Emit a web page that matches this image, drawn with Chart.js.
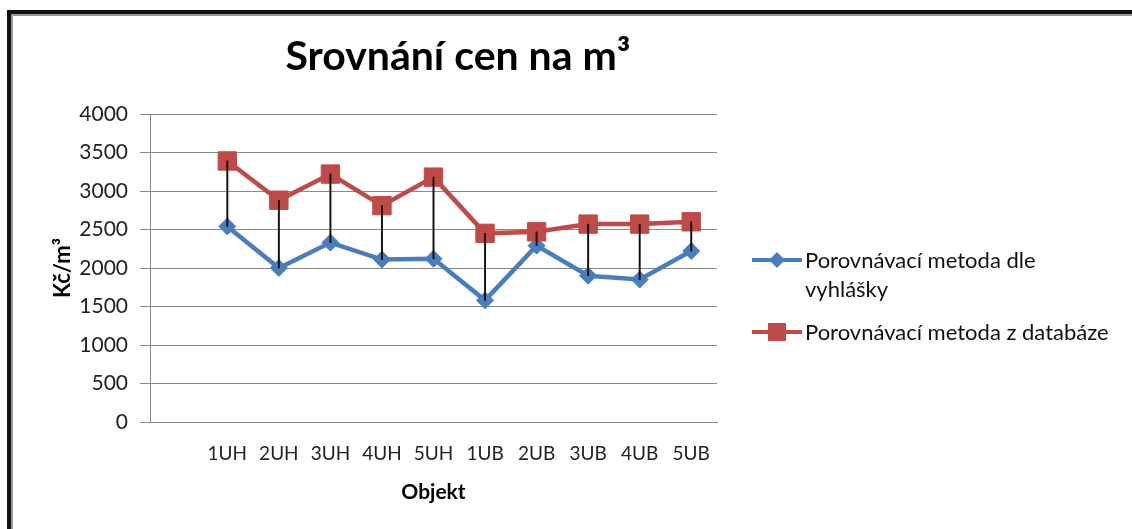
<!DOCTYPE html>
<html>
<head>
<meta charset="utf-8">
<script src="https://cdn.jsdelivr.net/npm/chart.js@4/dist/chart.umd.min.js"></script>
<style>
    body { margin: 0; background: #fff; }
    #wrap { position: relative; width: 1132px; height: 529px; overflow: hidden; font-family: Lato, sans-serif; }
    #frame { position: absolute; left: 7px; top: 10px; right: -20px; bottom: -20px; border-top: 4px solid #111; border-left: 4px solid #111; pointer-events: none; }
    #frame::after { content: ''; position: absolute; left: 0; top: 0; right: 0; bottom: 0; border-top: 2px solid #9a9a9a; border-left: 2px solid #9a9a9a; }
    #legend { position: absolute; left: 752px; top: 245px; font-size: 22px; color: #111; line-height: 29px; }
    .lg-item { display: flex; align-items: flex-start; }
    .lg-item svg { flex: none; margin-top: 5px; margin-right: 3px; }
    .lg-item + .lg-item { margin-top: 14px; }
</style>
</head>
<body>
<div id="wrap">
    <canvas id="chart" width="1132" height="529"></canvas>
    <div id="frame"></div>
    <div id="legend"></div>
</div>
<script>
// Data
const categories = ['', '1UH', '2UH', '3UH', '4UH', '5UH', '1UB', '2UB', '3UB', '4UB', '5UB'];
const vyhlaska = [null, 2540, 2000, 2330, 2110, 2120, 1580, 2290, 1900, 1850, 2220];
const databaze = [null, 3390, 2880, 3220, 2810, 3180, 2450, 2470, 2570, 2570, 2600];
const seriesNames = ['Porovnávací metoda dle<br>vyhlášky', 'Porovnávací metoda z databáze'];
const chartTitle = 'Srovnání cen na m³';
const yMin = 0, yMax = 4000, yStep = 500;

const BLUE = '#4A7EBB';
const RED = '#BE4B48';

// svislé spojnice mezi oběma řadami (floating bar)
const dropLines = categories.map((c, i) => vyhlaska[i] == null ? null : [vyhlaska[i], databaze[i]]);

// nadpis vycentrovaný přes celý graf (ne jen přes plochu grafu)
const titlePlugin = {
    id: 'excelTitle',
    afterDraw(chart) {
        const c = chart.ctx;
        c.save();
        c.font = 'bold 41px Lato';
        c.fillStyle = '#000';
        c.textAlign = 'center';
        c.textBaseline = 'middle';
        c.fillText(chartTitle, 458, 57);
        c.restore();
    }
};

const ctx = document.getElementById('chart').getContext('2d');
new Chart(ctx, {
    data: {
        labels: categories,
        datasets: [
            {
                type: 'bar', label: 'drop', data: dropLines,
                backgroundColor: '#111', barThickness: 1.3, order: 0
            },
            {
                type: 'line', label: 'vyhlaska', data: vyhlaska,
                borderColor: BLUE, backgroundColor: BLUE, borderWidth: 4.5,
                pointStyle: 'rectRot', pointRadius: 8.5, pointBorderWidth: 1,
                pointBackgroundColor: BLUE, pointBorderColor: BLUE, tension: 0, order: 2
            },
            {
                type: 'line', label: 'databaze', data: databaze,
                borderColor: RED, backgroundColor: RED, borderWidth: 4.5,
                pointStyle: 'rect', pointRadius: 13, pointBorderWidth: 1,
                pointBackgroundColor: RED, pointBorderColor: RED, tension: 0, order: 1
            }
        ]
    },
    options: {
        responsive: false,
        animation: false,
        layout: { padding: { left: 40, right: 415, top: 114, bottom: 18 } },
        plugins: {
            legend: { display: false },
            tooltip: { enabled: false },
            title: { display: false }
        },
        scales: {
            x: {
                type: 'category',
                offset: true,
                grid: { display: false },
                border: { display: true, color: '#888', width: 1 },
                ticks: { color: '#222', font: { family: 'Lato', size: 19 }, padding: 12, maxRotation: 0, autoSkip: false },
                title: { display: true, text: 'Objekt', color: '#000', font: { family: 'Lato', size: 21, weight: 'bold' }, padding: { top: 0, bottom: 6 } },
                afterFit: (scale) => { scale.height = 89; }
            },
            y: {
                min: yMin, max: yMax,
                grid: { color: '#8a8a8a', lineWidth: 1, tickLength: 10 },
                border: { display: true, color: '#888', width: 1 },
                ticks: { stepSize: yStep, color: '#222', font: { family: 'Lato', size: 21 }, padding: 12, callback: (v) => String(v) },
                title: { display: true, text: 'Kč/m³', color: '#000', font: { family: 'Lato', size: 22, weight: 'bold' }, padding: { top: 10, bottom: 0 } },
                afterFit: (scale) => { scale.width = 110; }
            }
        }
    },
    plugins: [titlePlugin]
});

// Legenda
const markers = [
    `<svg width="50" height="20"><line x1="1" y1="10" x2="49" y2="10" stroke="${BLUE}" stroke-width="4" stroke-linecap="round"/><path d="M25 2 L33 10 L25 18 L17 10 Z" fill="${BLUE}"/></svg>`,
    `<svg width="50" height="20"><line x1="1" y1="10" x2="49" y2="10" stroke="${RED}" stroke-width="4" stroke-linecap="round"/><rect x="16" y="1" width="18" height="18" fill="${RED}"/></svg>`
];
document.getElementById('legend').innerHTML = seriesNames.map((name, i) =>
    `<div class="lg-item">${markers[i]}<span>${name}</span></div>`
).join('');
</script>
</body>
</html>
